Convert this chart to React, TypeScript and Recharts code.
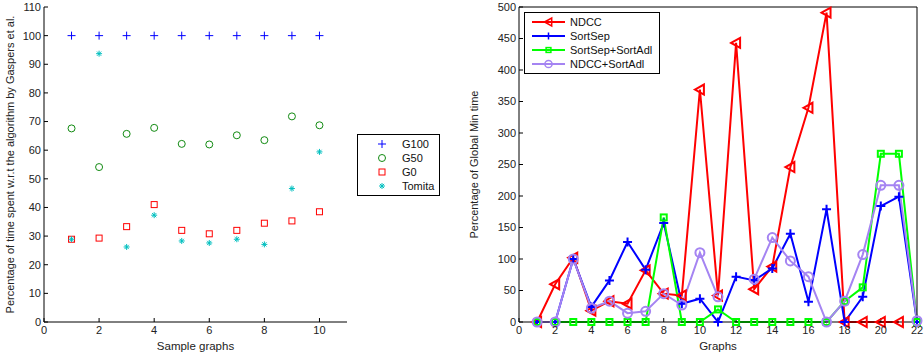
import { ScatterChart, Scatter, LineChart, Line, XAxis, YAxis } from 'recharts';

// left panel: sample graphs vs Gaspers et al.
const sampleGraphs = [1, 2, 3, 4, 5, 6, 7, 8, 9, 10];
const g100 = [100, 100, 100, 100, 100, 100, 100, 100, 100, 100];
const g50 = [67.6, 54.1, 65.7, 67.8, 62.2, 62.0, 65.2, 63.5, 71.8, 68.7];
const g0 = [28.9, 29.3, 33.3, 41.0, 32.0, 30.8, 32.0, 34.5, 35.3, 38.5];
const tomita = [28.9, 93.7, 26.2, 37.3, 28.3, 27.6, 28.9, 27.1, 46.6, 59.4];
const leftXTicks = [0, 2, 4, 6, 8, 10];
const leftYTicks = [0, 10, 20, 30, 40, 50, 60, 70, 80, 90, 100, 110];

// right panel: percentage of global min time
const graphs = [1, 2, 3, 4, 5, 6, 7, 8, 9, 10, 11, 12, 13, 14, 15, 16, 17, 18, 19, 20, 21, 22];
const ndcc = [0, 60, 102, 18, 33, 29, 82, 45, 42, 369, 42, 443, 52, 88, 246, 340, 491, 0, 0, 0, 0, null];
const sortSep = [0, 0, 100, 24, 66, 127, 83, 157, 29, 37, 0, 72, 66, 85, 140, 32, 179, 0, 40, 184, 199, 0];
const sortSepAdl = [0, 0, 0, 0, 0, 0, 0, 166, 0, 0, 20, 0, 0, 0, 0, 0, 0, 33, 55, 267, 267, 0];
const ndccAdl = [0, 0, 100, 22, 33, 14, 17, 45, 27, 110, 40, null, 68, 134, 97, 72, 0, 33, 107, 217, 217, 2];
const rightXTicks = [0, 2, 4, 6, 8, 10, 12, 14, 16, 18, 20, 22];
const rightYTicks = [0, 50, 100, 150, 200, 250, 300, 350, 400, 450, 500];

const FONT = '"Liberation Sans", Arial, Helvetica, sans-serif';
const tickStyle = { fontSize: 11, fill: '#222', fontFamily: FONT };

type MarkerKind = 'plus' | 'circle' | 'square' | 'asterisk' | 'triangle';

function Marker({ kind, cx, cy, color, size, width }: { kind: MarkerKind; cx: number; cy: number; color: string; size: number; width: number }) {
  const s = size;
  if (kind === 'plus') {
    return <path d={`M${cx - s},${cy}H${cx + s}M${cx},${cy - s}V${cy + s}`} stroke={color} strokeWidth={width} fill="none" />;
  }
  if (kind === 'circle') {
    return <circle cx={cx} cy={cy} r={s} stroke={color} strokeWidth={width} fill="none" />;
  }
  if (kind === 'square') {
    return <rect x={cx - s} y={cy - s} width={2 * s} height={2 * s} stroke={color} strokeWidth={width} fill="none" />;
  }
  if (kind === 'triangle') {
    return <polygon points={`${cx - s},${cy} ${cx + s * 0.8},${cy - s} ${cx + s * 0.8},${cy + s}`} stroke={color} strokeWidth={width} fill="none" />;
  }
  const d = s * 0.7;
  return (
    <path
      d={`M${cx - s},${cy}H${cx + s}M${cx},${cy - s}V${cy + s}M${cx - d},${cy - d}L${cx + d},${cy + d}M${cx - d},${cy + d}L${cx + d},${cy - d}`}
      stroke={color}
      strokeWidth={width}
      fill="none"
    />
  );
}

const leftSeries = [
  { name: 'G100', values: g100, color: '#0000ff', kind: 'plus' as MarkerKind, size: 4 },
  { name: 'G50', values: g50, color: '#118a11', kind: 'circle' as MarkerKind, size: 3.5 },
  { name: 'G0', values: g0, color: '#ff0000', kind: 'square' as MarkerKind, size: 3 },
  { name: 'Tomita', values: tomita, color: '#00bfbf', kind: 'asterisk' as MarkerKind, size: 3 },
];

const rightSeries = [
  { key: 'ndcc', name: 'NDCC', values: ndcc, color: '#ff0000', kind: 'triangle' as MarkerKind, size: 5 },
  { key: 'sortSep', name: 'SortSep', values: sortSep, color: '#0000ff', kind: 'plus' as MarkerKind, size: 4.5 },
  { key: 'sortSepAdl', name: 'SortSep+SortAdl', values: sortSepAdl, color: '#00ff00', kind: 'square' as MarkerKind, size: 3 },
  { key: 'ndccAdl', name: 'NDCC+SortAdl', values: ndccAdl, color: '#a584f2', kind: 'circle' as MarkerKind, size: 4.5 },
];

const lineData = graphs.map((g, i) => {
  const row: any = { graph: g };
  rightSeries.forEach((s) => { row[s.key] = s.values[i]; });
  return row;
});

function LeftLegend() {
  return (
    <div style={{ position: 'absolute', left: 357, top: 134, border: '1px solid #000', background: '#fff', width: 81, padding: '2px 0', fontFamily: FONT, fontSize: 11, color: '#111' }}>
      {leftSeries.map((s) => (
        <div key={s.name} style={{ display: 'flex', alignItems: 'center', height: 14 }}>
          <svg width={44} height={14}>
            <Marker kind={s.kind} cx={24} cy={7} color={s.color} size={s.size} width={1} />
          </svg>
          <span>{s.name}</span>
        </div>
      ))}
    </div>
  );
}

function RightLegend() {
  return (
    <div style={{ position: 'absolute', left: 524, top: 12, border: '1px solid #000', background: '#fff', width: 134, padding: '2px 0', fontFamily: FONT, fontSize: 11, color: '#111' }}>
      {rightSeries.map((s) => (
        <div key={s.key} style={{ display: 'flex', alignItems: 'center', height: 14 }}>
          <svg width={45} height={14}>
            <line x1={7} x2={40} y1={7} y2={7} stroke={s.color} strokeWidth={2} />
            <Marker kind={s.kind} cx={23.5} cy={7} color={s.color} size={s.size * 0.8} width={1.5} />
          </svg>
          <span>{s.name}</span>
        </div>
      ))}
    </div>
  );
}

export default function App() {
  return (
    <div style={{ position: 'absolute', left: 0, top: 0, width: 924, height: 356, background: '#fff' }}>
      <div style={{ position: 'absolute', left: 0, top: 0 }}>
        <ScatterChart width={450} height={356} margin={{ top: 7, right: 103, bottom: 4, left: 0 }}>
          <XAxis
            type="number"
            dataKey="x"
            domain={[0, 11]}
            ticks={leftXTicks}
            interval={0}
            height={30}
            tick={tickStyle}
            tickSize={-4}
            tickMargin={8}
            stroke="#000"
            label={{ value: 'Sample graphs', position: 'insideBottom', offset: 2, style: { fontSize: 11.5, fill: '#222', fontFamily: FONT } }}
          />
          <YAxis
            type="number"
            dataKey="y"
            domain={[0, 110]}
            ticks={leftYTicks}
            interval={0}
            width={44}
            tick={tickStyle}
            tickSize={-4}
            tickMargin={7}
            stroke="#000"
            label={{ value: 'Percentage of time spent w.r.t the algorithm by Gaspers et al.', angle: -90, position: 'insideLeft', offset: 10, style: { textAnchor: 'middle', fontSize: 11, fill: '#222', fontFamily: FONT } }}
          />
          {leftSeries.map((s) => (
            <Scatter
              key={s.name}
              name={s.name}
              data={sampleGraphs.map((x, i) => ({ x, y: s.values[i] }))}
              isAnimationActive={false}
              shape={(p: any) => <Marker kind={s.kind} cx={p.cx} cy={p.cy} color={s.color} size={s.size} width={1} />}
            />
          ))}
        </ScatterChart>
      </div>
      <LeftLegend />
      <div style={{ position: 'absolute', left: 460, top: 0 }}>
        <LineChart width={464} height={356} data={lineData} margin={{ top: 6, right: 6, bottom: 4, left: 0 }}>
          <XAxis
            type="number"
            dataKey="graph"
            domain={[0, 22]}
            ticks={rightXTicks}
            interval={0}
            height={30}
            tick={tickStyle}
            tickSize={-4}
            tickMargin={8}
            stroke="#000"
            label={{ value: 'Graphs', position: 'insideBottom', offset: 2, style: { fontSize: 11.5, fill: '#222', fontFamily: FONT } }}
          />
          <XAxis xAxisId="top" orientation="top" type="number" dataKey="graph" domain={[0, 22]} ticks={rightXTicks} interval={0} height={1} tick={false} tickSize={-4} stroke="#000" />
          <YAxis
            type="number"
            domain={[0, 500]}
            ticks={rightYTicks}
            interval={0}
            width={59}
            tick={tickStyle}
            tickSize={-4}
            tickMargin={7}
            stroke="#000"
            label={{ value: 'Percentage of Global Min time', angle: -90, position: 'insideLeft', offset: 14, style: { textAnchor: 'middle', fontSize: 11, fill: '#222', fontFamily: FONT } }}
          />
          <YAxis yAxisId="right" orientation="right" type="number" domain={[0, 500]} ticks={rightYTicks} interval={0} width={1} tick={false} tickSize={-4} stroke="#000" />
          {rightSeries.map((s) => (
            <Line
              key={s.key}
              dataKey={s.key}
              name={s.name}
              type="linear"
              stroke={s.color}
              strokeWidth={2}
              connectNulls={false}
              isAnimationActive={false}
              activeDot={false}
              dot={(p: any) =>
                p.cy == null || p.value == null ? <g key={`${s.key}-${p.index}`} /> : (
                  <Marker key={`${s.key}-${p.index}`} kind={s.kind} cx={p.cx} cy={p.cy} color={s.color} size={s.size} width={2} />
                )
              }
            />
          ))}
        </LineChart>
      </div>
      <RightLegend />
    </div>
  );
}
